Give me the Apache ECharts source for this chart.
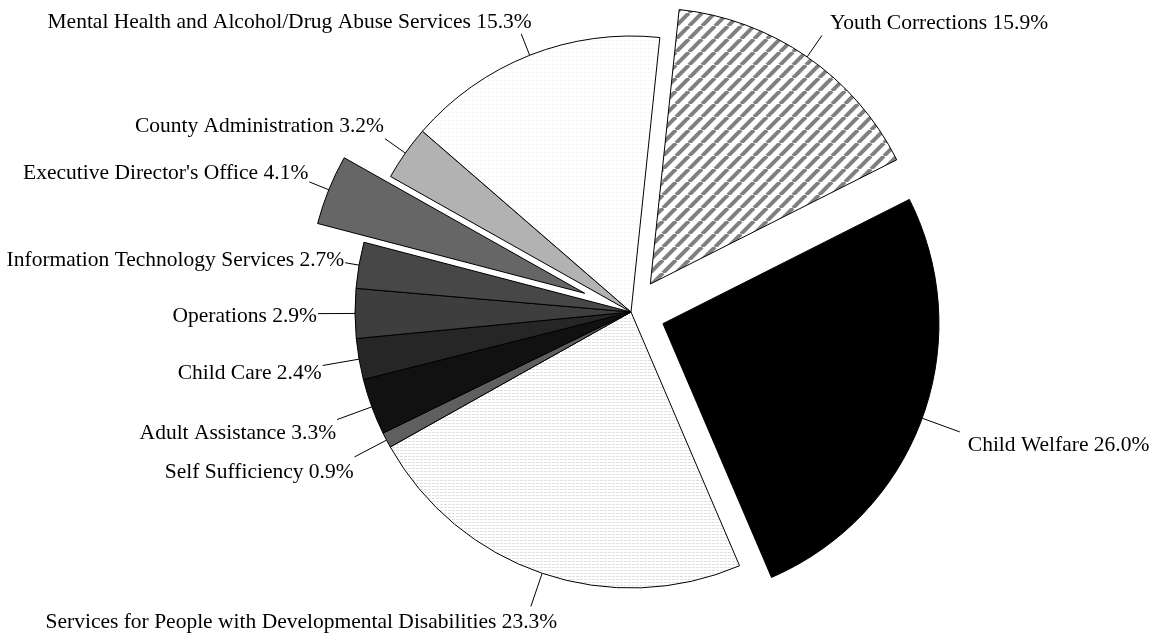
<!DOCTYPE html>
<html>
<head>
<meta charset="utf-8">
<style>
  html, body { margin: 0; padding: 0; background: #fff; }
  #chart { width: 1156px; height: 634px; }
</style>
<script src="https://cdn.jsdelivr.net/npm/echarts@6/dist/echarts.min.js"></script>
</head>
<body>
<div id="chart"></div>
<script>
// share of the budget by division, clockwise from the top
const categories = [
  'Youth Corrections',
  'Child Welfare',
  'Services for People with Developmental Disabilities',
  'Self Sufficiency',
  'Adult Assistance',
  'Child Care',
  'Operations',
  'Information Technology Services',
  "Executive Director's Office",
  'County Administration',
  'Mental Health and Alcohol/Drug Abuse Services'
];
const shares = [15.9, 26.0, 23.3, 0.9, 3.3, 2.4, 2.9, 2.7, 4.1, 3.2, 15.3];

// how far each slice is pulled out of the pie (px)
const pullOut = [34, 34, 0, 0, 0, 0, 0, 0, 50, 0, 0];
// leader line length of each label (px)
const leaderLen = [26, 40, 35, 36, 37, 37, 37, 14, 21, 25, 23];

const cx = 631, cy = 312, radius = 276, startAngle = 84;

function pattern(w, h, draw) {
  const c = document.createElement('canvas');
  c.width = w; c.height = h;
  const ctx = c.getContext('2d');
  ctx.fillStyle = '#fff';
  ctx.fillRect(0, 0, w, h);
  draw(ctx);
  return { image: c, repeat: 'repeat' };
}

const stripes = pattern(13, 13, ctx => {
  ctx.strokeStyle = '#808080';
  ctx.lineWidth = 4;
  [-13, 0, 13].forEach(k => {
    ctx.beginPath();
    ctx.moveTo(k, 13);
    ctx.lineTo(k + 13, 0);
    ctx.stroke();
  });
});
const hlines = pattern(4, 3, ctx => {
  ctx.fillStyle = '#e0e0e0';
  ctx.fillRect(0, 0, 3, 1);
});
const faint = pattern(4, 4, ctx => {
  ctx.fillStyle = '#f2f2f2';
  ctx.fillRect(0, 0, 2, 1);
});

const fills = [stripes, '#000000', hlines, '#5f5f5f', '#111111', '#262626',
  '#3e3e3e', '#474747', '#666666', '#b2b2b2', faint];

// middle angle of every slice, so pulled-out slices can move along it
const total = shares.reduce((a, b) => a + b, 0);
let acc = 0;
const midAngles = shares.map(v => {
  const m = startAngle - (acc + v / 2) / total * 360;
  acc += v;
  return m * Math.PI / 180;
});

// labels sit above the leader line end on the top half, below it on the bottom half;
// near the top and bottom they slide over the line end a little
function shiftLabel(p) {
  const pts = p.labelLinePoints;
  if (!pts) return {};
  const dx = pts[1][0] - pts[0][0], dy = pts[1][1] - pts[0][1];
  const len = Math.hypot(dx, dy);
  const s = -dy / len, c = dx / len;
  const offY = Math.max(-12, Math.min(16, 3 - 30 * s));
  const offX = -Math.sign(c) * Math.max(0, 0.4 - Math.abs(c)) * 350;
  const r = p.labelRect;
  const anchorX = p.align === 'right' ? r.x + r.width + 5 : r.x + 2;
  return { x: anchorX + offX, y: r.y + r.height / 2 + offY, labelLinePoints: pts };
}

function pieSeries(show, center) {
  return {
    type: 'pie',
    center: center,
    radius: radius,
    startAngle: startAngle,
    clockwise: true,
    avoidLabelOverlap: false,
    silent: true,
    animation: false,
    label: {
      color: '#000',
      fontFamily: '"Liberation Serif", "Times New Roman", serif',
      fontSize: 21.5,
      distanceToLabelLine: 6,
      formatter: p => p.name + ' ' + p.value.toFixed(1) + '%'
    },
    labelLine: { length2: 0, lineStyle: { color: '#000', width: 1 } },
    labelLayout: shiftLabel,
    data: categories.map((name, i) => show(i) ? {
      name: name,
      value: shares[i],
      itemStyle: { color: fills[i], borderColor: '#000', borderWidth: 1 },
      labelLine: { length: leaderLen[i] }
    } : {
      name: name,
      value: shares[i],
      itemStyle: { color: 'rgba(0,0,0,0)', borderWidth: 0 },
      label: { show: false },
      labelLine: { show: false }
    })
  };
}

const series = [pieSeries(i => !pullOut[i], [cx, cy])];
pullOut.forEach((d, i) => {
  if (!d) return;
  series.push(pieSeries(j => j === i,
    [cx + d * Math.cos(midAngles[i]), cy - d * Math.sin(midAngles[i])]));
});

const chart = echarts.init(document.getElementById('chart'));
chart.setOption({
  backgroundColor: '#fff',
  series: series
});
</script>
</body>
</html>
